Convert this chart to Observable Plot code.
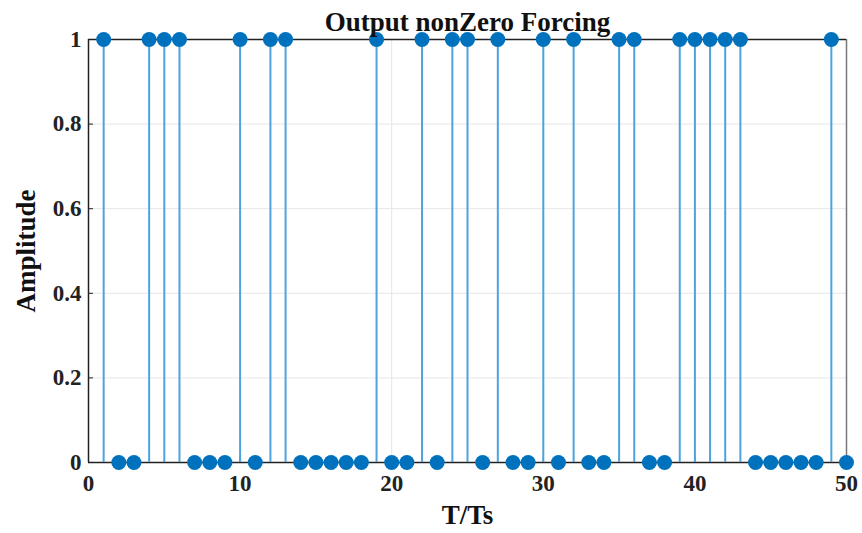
<!DOCTYPE html>
<html><head><meta charset="utf-8">
<script src="https://cdn.jsdelivr.net/npm/d3@7"></script>
<script src="https://cdn.jsdelivr.net/npm/@observablehq/plot@0.6"></script>
<style>body{margin:0;background:#fff;} svg{display:block;}</style>
</head><body><div id="chart"></div>
<script>
const samples = d3.range(1, 51);
const values = [1,0,0,1,1,1,0,0,0,1, 0,1,1,0,0,0,0,0,1,0, 0,1,0,1,1,0,1,0,0,1, 0,1,0,0,1,1,0,0,1,1, 1,1,1,0,0,0,0,0,1,0];
const xTicks = [0,10,20,30,40,50];
const yTicks = [0,0.2,0.4,0.6,0.8,1];
const titleText = "Output nonZero Forcing";
const xLabel = "T/Ts";
const yLabel = "Amplitude";

const data = samples.map((t,i)=>({t, v: values[i]}));
const font = "Liberation Serif, Times New Roman, serif";

const chart = Plot.plot({
  width: 862, height: 533,
  marginLeft: 88, marginRight: 16, marginTop: 39, marginBottom: 71,
  style: {fontFamily: font, fontSize: "23px", fontWeight: "bold", color: "#222", background: "#fff"},
  x: {domain: [0,50]},
  y: {domain: [0,1]},
  marks: [
    Plot.gridY(yTicks, {stroke: "#e6e6e6", strokeOpacity: 1}),
    Plot.gridX(xTicks, {stroke: "#e6e6e6", strokeOpacity: 1}),
    Plot.ruleX([50], {stroke: "#777", strokeWidth: 1.5}),
    Plot.ruleY([1], {stroke: "#222", strokeWidth: 1.5}),
    Plot.axisX({ticks: xTicks, tickSize: -5, tickPadding: 17, tickFormat: d=>String(d), label: null, stroke: "#222", fontSize: 23}),
    Plot.axisY({ticks: yTicks, tickSize: -5, tickPadding: 12, tickFormat: d=>String(d), label: null, stroke: "#222", fontSize: 23}),
    Plot.ruleX([0], {stroke: "#222", strokeWidth: 1.5}),
    Plot.ruleY([0], {stroke: "#222", strokeWidth: 1.5}),
    Plot.ruleX(data, {x: "t", y1: 0, y2: "v", stroke: "#4da3df", strokeWidth: 2}),
    Plot.dot(data, {x: "t", y: "v", r: 7.5, fill: "#0072BD", stroke: "none"}),
    Plot.text([titleText], {frameAnchor: "top", dy: -9, lineAnchor: "bottom", fontSize: 27, fontWeight: "bold", fill: "#111"}),
    Plot.text([xLabel], {frameAnchor: "bottom", dy: 61, fontSize: 27, fontWeight: "bold", fill: "#111"}),
    Plot.text([yLabel], {frameAnchor: "left", dx: -62, textAnchor: "middle", rotate: -90, fontSize: 27, fontWeight: "bold", fill: "#111"})
  ]
});
document.getElementById("chart").append(chart);
</script></body></html>
